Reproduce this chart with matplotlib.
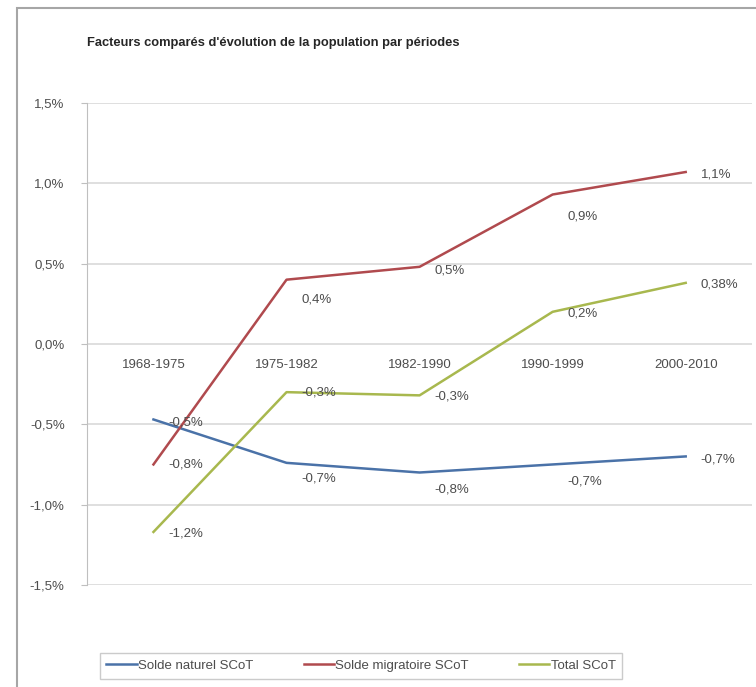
#!/usr/bin/env python

import numpy as np
import matplotlib.pyplot as plt
from matplotlib.patches import Rectangle

###
### data
###

periods = ["1968-1975", "1975-1982", "1982-1990", "1990-1999", "2000-2010"]

solde_naturel    = [-0.47, -0.74, -0.80, -0.75, -0.70]
solde_migratoire = [-0.75, 0.40, 0.48, 0.93, 1.07]
total_scot       = [-1.17, -0.30, -0.32, 0.20, 0.38]

labels_naturel    = ["-0,5%", "-0,7%", "-0,8%", "-0,7%", "-0,7%"]
labels_migratoire = ["-0,8%", "0,4%", "0,5%", "0,9%", "1,1%"]
labels_total      = ["-1,2%", "-0,3%", "-0,3%", "0,2%", "0,38%"]

y_ticks = [-1.5, -1.0, -0.5, 0.0, 0.5, 1.0, 1.5]

title = "Facteurs comparés d'évolution de la population par périodes"

###
### plot
###

def main():
    plt.rcParams['font.family'] = ['Liberation Sans', 'DejaVu Sans']
    fig = plt.figure(figsize=(7.56, 6.87), dpi=100)
    ax = fig.add_axes([0.115, 0.1485, 0.88, 0.7017])

    txt_col  = '#4d4d4d'
    grid_col = '#d9d9d9'
    fs = 9.5
    x = np.arange(len(periods))

    series = [
        ("Solde naturel SCoT",    solde_naturel,    labels_naturel,    '#4a72a8', [-3, -16, -17, -17, -3]),
        ("Solde migratoire SCoT", solde_migratoire, labels_migratoire, '#b04a4e', [0, -20, -4, -22, -2]),
        ("Total SCoT",            total_scot,       labels_total,      '#a8b84e', [-2, 0, -1, -2, -2]),
    ]

    handles = []
    for name, vals, labs, col, dys in series:
        line, = ax.plot(x, vals, color=col, lw=1.8, label=name, zorder=3)
        handles.append(line)
        for xi, v, lab, dy in zip(x, vals, labs, dys):
            ax.annotate(lab, (xi, v), xytext=(15, dy), textcoords='offset pixels',
                        ha='left', va='center', fontsize=fs, color=txt_col, zorder=4)

    # axis config
    ax.set_xlim(-0.5, len(periods) - 0.5)
    ax.set_ylim(-1.5, 1.5)
    ax.set_yticks(y_ticks)
    ax.set_yticklabels([("%.1f%%" % t).replace('.', ',') for t in y_ticks],
                       fontsize=fs, color=txt_col)
    ax.tick_params(axis='y', length=4, color='#bfbfbf', pad=12)
    ax.set_xticks([])
    ax.grid(True, axis='y', color=grid_col, lw=1.2)
    ax.set_axisbelow(True)
    for s in ('top', 'right', 'bottom'):
        ax.spines[s].set_visible(False)
    ax.spines['left'].set_color('#bfbfbf')

    # category labels sit on the zero line
    for xi, p in zip(x, periods):
        ax.annotate(p, (xi, 0), xytext=(0, -15), textcoords='offset pixels',
                    ha='center', va='top', fontsize=fs, color=txt_col)

    fig.text(0.362, 0.937, title, ha='center', va='center', fontsize=9.3,
             fontweight='bold', color='#262626')

    # outer chart frame
    fig.patches.append(Rectangle((17 / 756, -0.01), 1.0, 1 - 8 / 687 + 0.01,
                                 transform=fig.transFigure, fill=False,
                                 edgecolor='#a6a6a6', lw=1.5))

    leg = fig.legend(handles=handles, loc='center', bbox_to_anchor=(0.4775, 0.0306),
                     ncol=3, fontsize=9.5, frameon=True, fancybox=False,
                     edgecolor='#bfbfbf', handlelength=2.3, handletextpad=0.1,
                     columnspacing=3.8, borderpad=0.5)
    for t in leg.get_texts():
        t.set_color(txt_col)

    plt.savefig('out.png', dpi=100)
    plt.close(fig)

if (__name__ == "__main__"):
    main()
